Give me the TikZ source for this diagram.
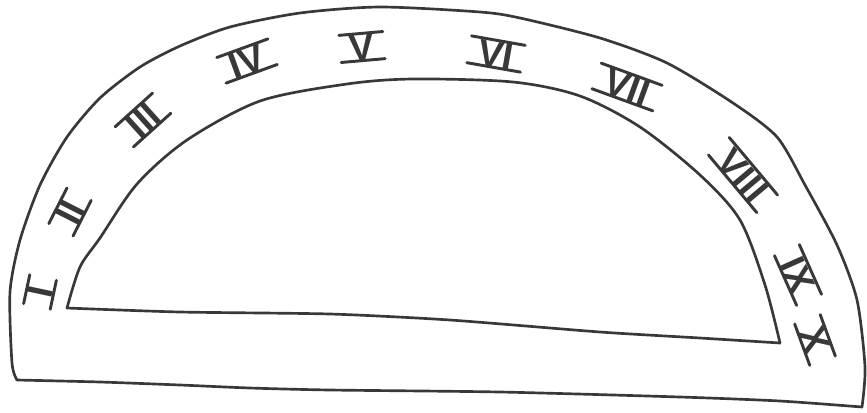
\documentclass[tikz,border=0pt]{standalone}
\usepackage{fontspec}
\setmainfont{Liberation Sans}
\begin{document}
\begin{tikzpicture}[x=0.75pt,y=-0.75pt,
  ink/.style={draw=black!78, line width=2pt, line join=round, line cap=round},
  numeral/.style={font=\fontsize{28}{28}\selectfont\bfseries, text=black!78, inner xsep=7pt, inner ysep=0pt, text height=20pt, text depth=0pt},
  numbar/.style={draw=black!78, line width=2.2pt, line cap=round}]
\useasboundingbox (0,0) rectangle (867,412);
% outer ring
\draw[ink] plot[smooth, tension=0.45] coordinates {(17,380) (12,363) (10,292) (20,240) (40,185) (67,137) (100,98) (140,67) (180,46) (230,27) (300,13) (380,7) (480,12) (520,18) (600,38) (667,63) (733,103) (777,137) (805,185) (837,245) (857,300) (865,367) (862,407)};
\draw[ink] plot[smooth, tension=0.4] coordinates {(862,407) (780,401) (680,397) (500,392) (330,390) (250,388) (180,385) (100,382) (17,380)};
% inner face
\draw[ink] plot[smooth, tension=0.5] coordinates {(67,308) (80,267) (100,238) (137,184) (187,140) (260,101) (347,84) (413,79) (513,82) (580,96) (640,127) (700,175) (740,220) (765,285) (780,343)};
\draw[ink] plot[smooth, tension=0.4] coordinates {(780,343) (700,338) (600,332) (450,320) (330,314) (180,312) (67,308)};
% numerals
\foreach \n/\t/\px/\py/\r in {n1/I/40/292/78, n2/II/70/212/63, n3/III/143/120/42, n4/IV/247/61/20, n5/V/362/47/5, n6/VI/496/54/-10, n7/VII/627/87/-20, n8/VIII/743/175/-50, n9/IX/798/275/-66, n10/X/815/340/-70} {
  \node[numeral, rotate=\r] (\n) at (\px,\py) {\t};
  \draw[numbar] (\n.north west) -- (\n.north east);
  \draw[numbar] (\n.south west) -- (\n.south east);
}
\end{tikzpicture}
\end{document}
